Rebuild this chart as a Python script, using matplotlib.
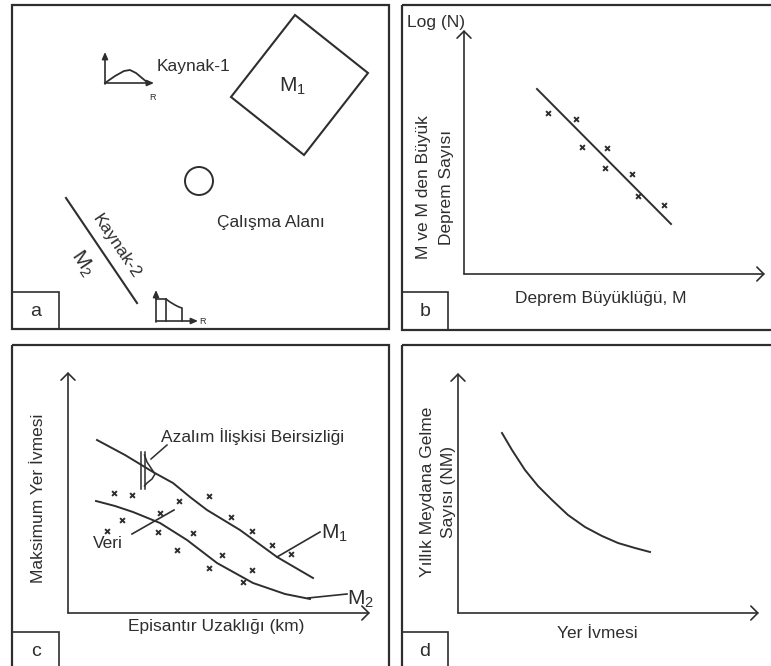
import numpy as np
import matplotlib.pyplot as plt
from matplotlib.patches import Rectangle, Circle, Polygon

plt.rcParams['font.family'] = ['Liberation Sans', 'DejaVu Sans']
plt.rcParams['mathtext.fontset'] = 'custom'
plt.rcParams['mathtext.rm'] = 'Liberation Sans'
plt.rcParams['mathtext.it'] = 'Liberation Sans'

INK = '#2e2e2e'
FS = 12.5

# --- panel a: sources and site (drawing coords, px) ---
k1_curve_x = [105, 115, 124, 130, 136, 142, 148]
k1_curve_y = [83, 76, 71, 70, 73, 78, 83]
k2_curve_x = [156, 166, 170, 175, 179, 182, 182]
k2_curve_y = [299, 299, 302, 305, 307, 308, 321]
m1_zone_x = [295, 368, 304, 231]
m1_zone_y = [15, 73, 155, 97]
fault_x = [66, 137]
fault_y = [198, 303]

# --- panel b: Gutenberg-Richter ---
gr_line_x = [537, 671]
gr_line_y = [89, 224]
gr_pts_x = [548, 576, 582, 607, 605, 632, 638, 664]
gr_pts_y = [113, 119, 147, 148, 168, 174, 196, 205]

# --- panel c: attenuation ---
m1_att_x = [97, 125, 153, 173, 190, 207, 240, 277, 313]
m1_att_y = [440, 455, 472, 483, 497, 510, 530, 557, 578]
m2_att_x = [96, 115, 133, 160, 187, 217, 253, 285, 310]
m2_att_y = [501, 506, 512, 523, 540, 563, 583, 594, 599]
att_pts_x = [114, 132, 209, 179, 160, 122, 107, 231, 252, 158, 193, 177, 272, 291, 222, 209, 252, 243]
att_pts_y = [493, 495, 496, 501, 513, 520, 531, 517, 531, 532, 533, 550, 545, 554, 555, 568, 570, 582]

# --- panel d: hazard curve ---
haz_x = [502, 512, 525, 538, 552, 568, 585, 602, 618, 635, 650]
haz_y = [433, 450, 470, 486, 500, 515, 527, 536, 543, 548, 552]

fig = plt.figure(figsize=(7.71, 6.66), dpi=100)
ax = fig.add_axes([0, 0, 1, 1])
ax.set_xlim(0, 771)
ax.set_ylim(666, 0)
ax.axis('off')


def frame(x0, y0, x1, y1, lw=1.6):
    ax.add_patch(Rectangle((x0, y0), x1 - x0, y1 - y0, fill=False, ec=INK, lw=lw))


def axis_arrow(x0, y0, x1, y1, style='->,head_length=0.5,head_width=0.5', lw=1.2, ms=10):
    ax.annotate('', xy=(x1, y1), xytext=(x0, y0),
                arrowprops=dict(arrowstyle=style, lw=lw, color=INK,
                                shrinkA=0, shrinkB=0, mutation_scale=ms))


def cross(xs, ys):
    ax.scatter(xs, ys, marker='x', s=12, c=INK, linewidths=1.4, zorder=3)


# panel frames and tag boxes
frame(12, 5, 389, 329)
frame(402, 5, 800, 330)
frame(12, 345, 389, 700)
frame(402, 345, 800, 700)
for (x0, y0, x1, y1), t in zip([(12, 292, 59, 329), (402, 292, 448, 330),
                                 (12, 632, 59, 700), (402, 632, 448, 700)], 'abcd'):
    frame(x0, y0, x1, y1, lw=1.2)
    ax.text(36 if t in 'ac' else 425, 312 if t in 'ab' else 651, t,
            fontsize=14, ha='center', va='center', color=INK)

# ---------- a ----------
small = '-|>,head_length=0.5,head_width=0.22'
axis_arrow(105, 84, 105, 52, style=small, lw=1.2, ms=8)
axis_arrow(105, 83, 154, 83, style=small, lw=1.2, ms=8)
ax.plot(k1_curve_x, k1_curve_y, color=INK, lw=1.3)
ax.text(153, 98, 'R', fontsize=6.5, ha='center', va='center', color=INK)
ax.text(157, 67, 'Kaynak-1', fontsize=FS, ha='left', va='center', color=INK)

ax.add_patch(Polygon(np.column_stack([m1_zone_x, m1_zone_y]), closed=True,
                     fill=False, ec=INK, lw=1.5))
ax.text(292, 86, r'M$_\mathregular{1}$', fontsize=15, ha='center', va='center', color=INK)

ax.add_patch(Circle((199, 181), 14, fill=False, ec=INK, lw=1.4))
ax.text(271, 222, 'Çalışma Alanı', fontsize=FS, ha='center', va='center', color=INK)

ax.plot(fault_x, fault_y, color=INK, lw=1.5)
ax.text(116, 246, 'Kaynak-2', fontsize=FS, ha='center', va='center', rotation=-56,
        rotation_mode='anchor', color=INK)
ax.text(82, 263, r'M$_\mathregular{2}$', fontsize=15, ha='center', va='center', rotation=-56,
        rotation_mode='anchor', color=INK)

axis_arrow(156, 322, 156, 290, style=small, lw=1.2, ms=8)
axis_arrow(156, 321, 198, 321, style=small, lw=1.2, ms=8)
ax.plot(k2_curve_x, k2_curve_y, color=INK, lw=1.2)
ax.plot([166, 166], [299, 321], color=INK, lw=1.2)
ax.text(202, 321, 'R', fontsize=6.5, ha='center', va='center', color=INK)

# ---------- b ----------
axis_arrow(464, 274, 464, 30)
axis_arrow(464, 274, 765, 274)
ax.text(407, 22, 'Log (N)', fontsize=FS, ha='left', va='center', color=INK)
ax.text(435, 187, 'M ve M den Büyük\nDeprem Sayısı', fontsize=FS, rotation=90,
        ha='center', va='center', multialignment='center', linespacing=1.65, color=INK)
ax.plot(gr_line_x, gr_line_y, color=INK, lw=1.4)
cross(gr_pts_x, gr_pts_y)
ax.text(601, 298, 'Deprem Büyüklüğü, M', fontsize=FS, ha='center', va='center', color=INK)

# ---------- c ----------
axis_arrow(68, 613, 68, 372)
axis_arrow(68, 613, 370, 613)
ax.text(39, 498, 'Maksimum Yer İvmesi', fontsize=FS, rotation=90,
        ha='center', va='center', color=INK)
ax.text(216, 627, 'Episantır Uzaklığı (km)', fontsize=FS, ha='center', va='center', color=INK)
ax.plot(m1_att_x, m1_att_y, color=INK, lw=1.4)
ax.plot(m2_att_x, m2_att_y, color=INK, lw=1.4)
cross(att_pts_x, att_pts_y)
# uncertainty symbol
ax.plot([141, 141], [452, 489], color=INK, lw=1.1)
ax.plot([144.5, 144.5], [452, 489], color=INK, lw=1.1)
ax.plot([144.5, 147, 151, 155, 152, 147, 144.5], [455, 462, 468, 474, 479, 483, 486], color=INK, lw=1.1)
ax.plot([151, 167], [459, 445], color=INK, lw=1.1)
ax.text(161, 437, 'Azalım İlişkisi Beirsizliği', fontsize=FS, ha='left', va='center', color=INK)
ax.plot([132, 174], [534, 510], color=INK, lw=1.2)
ax.text(93, 544, 'Veri', fontsize=FS, ha='left', va='center', color=INK)
ax.plot([277, 320], [557, 532], color=INK, lw=1.2)
ax.text(321, 533, r'M$_\mathregular{1}$', fontsize=15, ha='left', va='center', color=INK)
ax.plot([308, 347], [598, 594], color=INK, lw=1.2)
ax.text(347, 599, r'M$_\mathregular{2}$', fontsize=15, ha='left', va='center', color=INK)

# ---------- d ----------
axis_arrow(458, 613, 458, 373)
axis_arrow(458, 613, 759, 613)
ax.text(438, 492, 'Yıllık Meydana Gelme\nSayısı (NM)', fontsize=FS, rotation=90,
        ha='center', va='center', multialignment='center', linespacing=1.45, color=INK)
ax.plot(haz_x, haz_y, color=INK, lw=1.4)
ax.text(597, 633, 'Yer İvmesi', fontsize=FS, ha='center', va='center', color=INK)

fig.savefig('out.png', dpi=100, facecolor='white')
